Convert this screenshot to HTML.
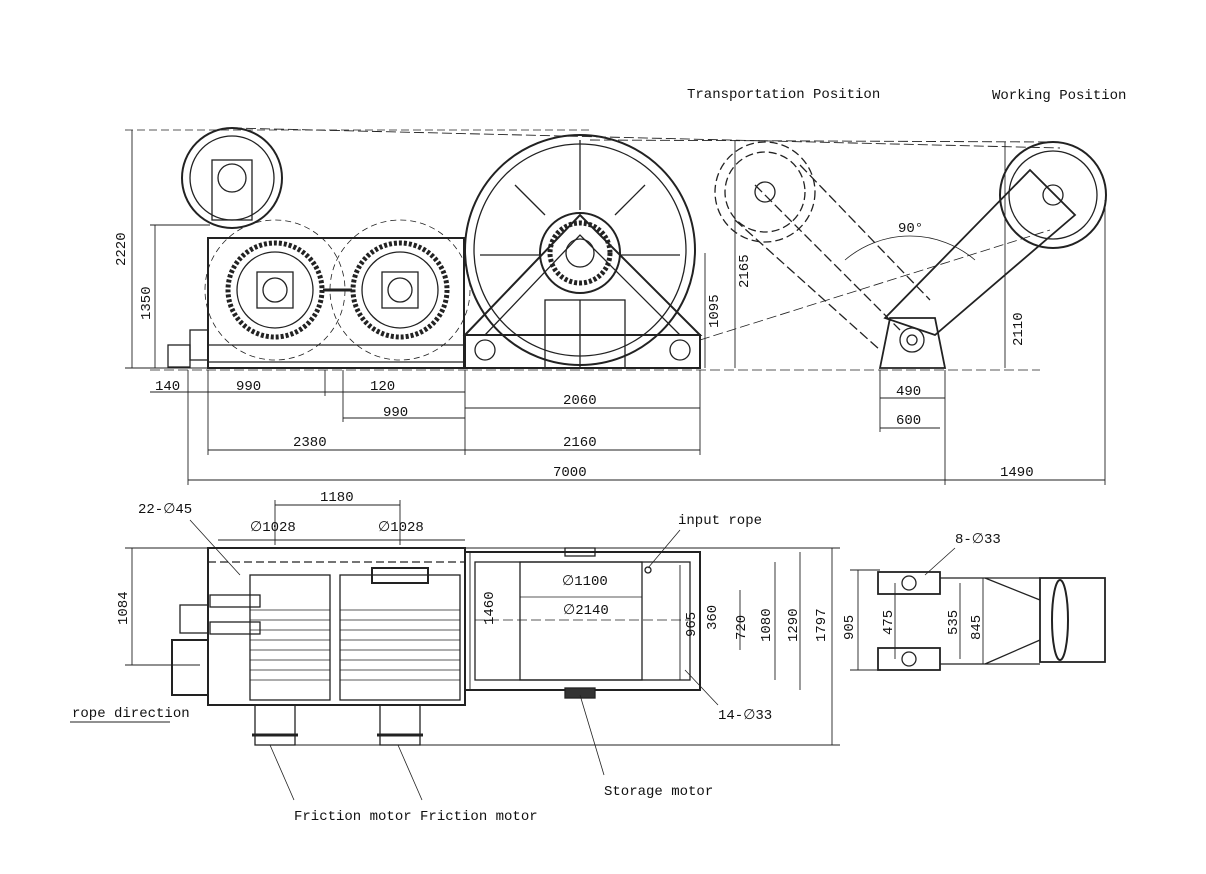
<!DOCTYPE html>
<html><head><meta charset="utf-8"><style>
html,body{margin:0;padding:0;background:#fff}
svg text{font-family:"Liberation Mono",monospace;font-size:14px;fill:#111}
</style></head><body>
<svg width="1206" height="869" viewBox="0 0 1206 869" xmlns="http://www.w3.org/2000/svg" stroke="#222" fill="none" stroke-width="1.3">
<rect width="1206" height="869" fill="#fff" stroke="none"/>
<text x="687" y="98" stroke="none">Transportation Position</text>
<text x="992" y="99" stroke="none">Working Position</text>

<circle cx="232" cy="178" r="50" stroke-width="2"/>
<circle cx="232" cy="178" r="42"/>
<circle cx="232" cy="178" r="14"/>
<rect x="212" y="160" width="40" height="60"/>
<line x1="125" y1="130" x2="590" y2="130" stroke-dasharray="8 4" stroke-width="0.8"/>
<line x1="232" y1="128" x2="1060" y2="148" stroke-dasharray="10 4" stroke-width="0.9"/>
<line x1="590" y1="140" x2="1050" y2="142" stroke-dasharray="10 4" stroke-width="0.9"/>
<rect x="208" y="238" width="256" height="130" stroke-width="2"/>
<line x1="208" y1="345" x2="464" y2="345"/>
<circle cx="275" cy="290" r="70" stroke-dasharray="6 4" stroke-width="0.8"/>
<circle cx="400" cy="290" r="70" stroke-dasharray="6 4" stroke-width="0.8"/>
<circle cx="275" cy="290" r="47" stroke-width="5" stroke-dasharray="3 2"/>
<circle cx="400" cy="290" r="47" stroke-width="5" stroke-dasharray="3 2"/>
<circle cx="275" cy="290" r="38"/><circle cx="400" cy="290" r="38"/>
<rect x="257" y="272" width="36" height="36"/><rect x="382" y="272" width="36" height="36"/>
<circle cx="275" cy="290" r="12"/><circle cx="400" cy="290" r="12"/>
<line x1="323" y1="290" x2="352" y2="290" stroke-width="3"/>
<rect x="190" y="330" width="18" height="30"/><rect x="168" y="345" width="22" height="22"/>
<line x1="208" y1="362" x2="464" y2="362"/>
<circle cx="580" cy="250" r="115" stroke-width="2"/>
<circle cx="580" cy="250" r="106"/>
<circle cx="580" cy="253" r="40" stroke-width="2"/>
<circle cx="580" cy="253" r="30" stroke-width="5" stroke-dasharray="3 2"/>
<circle cx="580" cy="253" r="14"/>
<line x1="515" y1="185" x2="545" y2="215"/><line x1="645" y1="185" x2="615" y2="215"/>
<line x1="580" y1="140" x2="580" y2="210"/>
<line x1="480" y1="255" x2="540" y2="255"/><line x1="620" y1="255" x2="680" y2="255"/>
<polygon points="465,335 580,215 700,335" stroke-width="2"/>
<polyline points="485,335 580,235 680,335"/>
<rect x="465" y="335" width="235" height="33" stroke-width="2"/>
<rect x="545" y="300" width="80" height="68"/>
<circle cx="485" cy="350" r="10"/><circle cx="680" cy="350" r="10"/>
<line x1="580" y1="300" x2="580" y2="368"/>
<circle cx="765" cy="192" r="50" stroke-dasharray="8 4"/>
<circle cx="765" cy="192" r="40" stroke-dasharray="8 4"/>
<circle cx="765" cy="192" r="10"/>
<line x1="755" y1="185" x2="900" y2="330" stroke-dasharray="10 4"/>
<line x1="800" y1="165" x2="930" y2="300" stroke-dasharray="10 4"/>
<line x1="735" y1="220" x2="880" y2="350" stroke-dasharray="10 4"/>
<path d="M845 260 A100 100 0 0 1 975 260" stroke-width="0.8"/>
<text x="898" y="232" stroke="none">90°</text>
<circle cx="1053" cy="195" r="53" stroke-width="2"/>
<circle cx="1053" cy="195" r="44"/>
<circle cx="1053" cy="195" r="10"/>
<polygon points="885,318 1030,170 1075,215 935,335" stroke-width="1.8"/>
<polygon points="880,368 890,318 935,318 945,368" stroke-width="1.8"/>
<circle cx="912" cy="340" r="12"/><circle cx="912" cy="340" r="5"/>
<line x1="700" y1="340" x2="1050" y2="230" stroke-dasharray="10 4" stroke-width="0.8"/>
<line x1="150" y1="370" x2="1040" y2="370" stroke-dasharray="10 4" stroke-width="0.8"/>
<g stroke-width="0.9">
<line x1="132" y1="130" x2="132" y2="368"/><line x1="125" y1="368" x2="210" y2="368"/>
<line x1="155" y1="225" x2="155" y2="368"/><line x1="150" y1="225" x2="210" y2="225"/>
<line x1="705" y1="253" x2="705" y2="368"/><line x1="735" y1="140" x2="735" y2="368"/>
<line x1="1005" y1="142" x2="1005" y2="368"/>
</g>
<text transform="translate(125,266) rotate(-90)" stroke="none">2220</text>
<text transform="translate(150,320) rotate(-90)" stroke="none">1350</text>
<text transform="translate(718,328) rotate(-90)" stroke="none">1095</text>
<text transform="translate(748,288) rotate(-90)" stroke="none">2165</text>
<text transform="translate(1022,346) rotate(-90)" stroke="none">2110</text>
<g stroke-width="0.9">
<line x1="150" y1="392" x2="465" y2="392"/>
<line x1="343" y1="418" x2="465" y2="418"/><line x1="465" y1="408" x2="700" y2="408"/>
<line x1="208" y1="450" x2="700" y2="450"/>
<line x1="188" y1="480" x2="1105" y2="480"/>
<line x1="880" y1="398" x2="945" y2="398"/><line x1="880" y1="428" x2="940" y2="428"/>
<line x1="188" y1="370" x2="188" y2="485"/><line x1="208" y1="370" x2="208" y2="455"/>
<line x1="343" y1="370" x2="343" y2="422"/><line x1="325" y1="370" x2="325" y2="396"/>
<line x1="465" y1="370" x2="465" y2="455"/><line x1="700" y1="370" x2="700" y2="455"/>
<line x1="880" y1="370" x2="880" y2="432"/><line x1="945" y1="370" x2="945" y2="485"/>
<line x1="1105" y1="200" x2="1105" y2="485"/>
</g>
<text x="155" y="390" stroke="none">140</text>
<text x="236" y="390" stroke="none">990</text>
<text x="370" y="390" stroke="none">120</text>
<text x="383" y="416" stroke="none">990</text>
<text x="563" y="404" stroke="none">2060</text>
<text x="293" y="446" stroke="none">2380</text>
<text x="563" y="446" stroke="none">2160</text>
<text x="553" y="476" stroke="none">7000</text>
<text x="1000" y="476" stroke="none">1490</text>
<text x="896" y="395" stroke="none">490</text>
<text x="896" y="424" stroke="none">600</text>

<line x1="125" y1="548" x2="840" y2="548" stroke-width="0.9"/>
<rect x="208" y="548" width="257" height="157" stroke-width="2"/>
<line x1="208" y1="562" x2="465" y2="562" stroke-dasharray="8 4"/>
<rect x="250" y="575" width="80" height="125"/>
<rect x="340" y="575" width="120" height="125"/>
<g stroke-width="0.8">
<line x1="250" y1="610" x2="330" y2="610"/><line x1="250" y1="620" x2="330" y2="620"/><line x1="250" y1="630" x2="330" y2="630"/><line x1="250" y1="640" x2="330" y2="640"/><line x1="250" y1="650" x2="330" y2="650"/><line x1="250" y1="660" x2="330" y2="660"/><line x1="250" y1="670" x2="330" y2="670"/><line x1="250" y1="680" x2="330" y2="680"/>
<line x1="340" y1="610" x2="460" y2="610"/><line x1="340" y1="620" x2="460" y2="620"/><line x1="340" y1="630" x2="460" y2="630"/><line x1="340" y1="640" x2="460" y2="640"/><line x1="340" y1="650" x2="460" y2="650"/><line x1="340" y1="660" x2="460" y2="660"/><line x1="340" y1="670" x2="460" y2="670"/><line x1="340" y1="680" x2="460" y2="680"/>
</g>
<rect x="372" y="568" width="56" height="15" stroke-width="2"/>
<rect x="210" y="595" width="50" height="12"/><rect x="210" y="622" width="50" height="12"/>
<rect x="180" y="605" width="28" height="28"/>
<rect x="172" y="640" width="36" height="55" stroke-width="2"/>
<rect x="255" y="705" width="40" height="40"/><rect x="380" y="705" width="40" height="40"/>
<line x1="252" y1="735" x2="298" y2="735" stroke-width="3"/><line x1="377" y1="735" x2="423" y2="735" stroke-width="3"/>
<rect x="465" y="552" width="235" height="138" stroke-width="2"/>
<rect x="475" y="562" width="215" height="118"/>
<rect x="520" y="562" width="122" height="118"/>
<rect x="565" y="548" width="30" height="8"/><rect x="565" y="688" width="30" height="10" fill="#333"/>
<line x1="520" y1="597" x2="642" y2="597" stroke-width="0.8"/>
<line x1="475" y1="620" x2="690" y2="620" stroke-dasharray="10 4" stroke-width="0.8"/>
<rect x="878" y="572" width="62" height="22" stroke-width="1.8"/>
<rect x="878" y="648" width="62" height="22" stroke-width="1.8"/>
<circle cx="909" cy="583" r="7"/><circle cx="909" cy="659" r="7"/>
<line x1="940" y1="578" x2="1040" y2="578"/><line x1="940" y1="664" x2="1040" y2="664"/>
<rect x="1040" y="578" width="65" height="84" stroke-width="1.8"/>
<ellipse cx="1060" cy="620" rx="8" ry="40" stroke-width="2"/>
<line x1="985" y1="578" x2="1040" y2="600"/><line x1="985" y1="664" x2="1040" y2="640"/>
<g stroke-width="0.9">
<line x1="218" y1="540" x2="465" y2="540"/>
<line x1="275" y1="500" x2="275" y2="545"/><line x1="400" y1="500" x2="400" y2="545"/>
<line x1="275" y1="505" x2="400" y2="505"/>
<line x1="132" y1="548" x2="132" y2="665"/><line x1="125" y1="665" x2="200" y2="665"/>
<line x1="470" y1="552" x2="470" y2="690"/>
<line x1="680" y1="565" x2="680" y2="680"/>
<line x1="700" y1="600" x2="700" y2="640"/><line x1="740" y1="590" x2="740" y2="650"/>
<line x1="775" y1="562" x2="775" y2="680"/><line x1="800" y1="552" x2="800" y2="690"/>
<line x1="832" y1="548" x2="832" y2="745"/>
<line x1="290" y1="745" x2="840" y2="745"/>
<line x1="858" y1="570" x2="858" y2="670"/><line x1="895" y1="583" x2="895" y2="659"/>
<line x1="960" y1="583" x2="960" y2="659"/><line x1="983" y1="578" x2="983" y2="664"/>
<line x1="850" y1="570" x2="880" y2="570"/><line x1="850" y1="670" x2="880" y2="670"/>
</g>
<text x="320" y="501" stroke="none">1180</text>
<text x="138" y="513" stroke="none">22-∅45</text>
<line x1="190" y1="520" x2="240" y2="575" stroke-width="0.8"/>
<text x="250" y="531" stroke="none">∅1028</text>
<text x="378" y="531" stroke="none">∅1028</text>
<text x="678" y="524" stroke="none">input rope</text>
<line x1="680" y1="530" x2="648" y2="568" stroke-width="0.8"/>
<circle cx="648" cy="570" r="3"/>
<text x="562" y="585" stroke="none">∅1100</text>
<text x="563" y="614" stroke="none">∅2140</text>
<text transform="translate(127,625) rotate(-90)" stroke="none">1084</text>
<text transform="translate(493,625) rotate(-90)" stroke="none">1460</text>
<text transform="translate(695,637) rotate(-90)" stroke="none">965</text>
<text transform="translate(716,630) rotate(-90)" stroke="none">360</text>
<text transform="translate(745,640) rotate(-90)" stroke="none">720</text>
<text transform="translate(770,642) rotate(-90)" stroke="none">1080</text>
<text transform="translate(797,642) rotate(-90)" stroke="none">1290</text>
<text transform="translate(825,642) rotate(-90)" stroke="none">1797</text>
<text transform="translate(853,640) rotate(-90)" stroke="none">905</text>
<text transform="translate(892,635) rotate(-90)" stroke="none">475</text>
<text transform="translate(957,635) rotate(-90)" stroke="none">535</text>
<text transform="translate(980,640) rotate(-90)" stroke="none">845</text>
<text x="955" y="543" stroke="none">8-∅33</text>
<line x1="955" y1="548" x2="925" y2="575" stroke-width="0.8"/>
<text x="718" y="719" stroke="none">14-∅33</text>
<line x1="718" y1="705" x2="685" y2="670" stroke-width="0.8"/>
<text x="72" y="717" stroke="none">rope direction</text>
<line x1="70" y1="722" x2="170" y2="722" stroke-width="0.9"/>
<text x="604" y="795" stroke="none">Storage motor</text>
<line x1="604" y1="775" x2="580" y2="695" stroke-width="0.8"/>
<text x="294" y="820" stroke="none">Friction motor Friction motor</text>
<line x1="294" y1="800" x2="270" y2="745" stroke-width="0.8"/>
<line x1="422" y1="800" x2="398" y2="745" stroke-width="0.8"/>
</svg>
</body></html>
